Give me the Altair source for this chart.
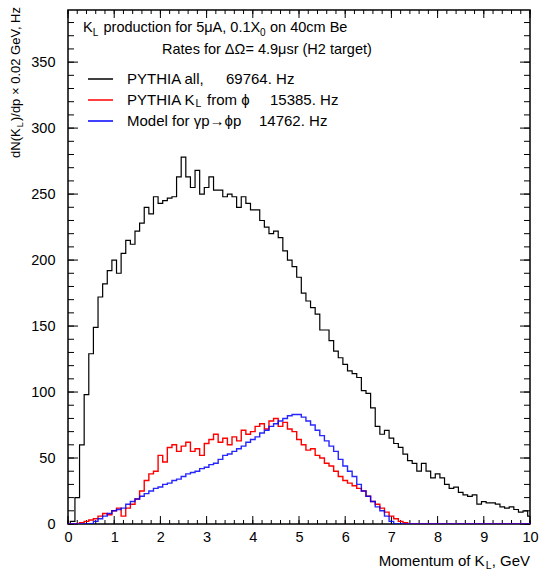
import altair as alt
import pandas as pd

# ---------------- data ----------------
momentum = [round(i * 0.1, 1) for i in range(101)]  # GeV, bin centres

pythia_all = [0, 2, 20, 60, 98, 129, 149, 172, 182, 192,
              200, 190, 205, 215, 212, 222, 228, 240, 235, 248,
              243, 245, 247, 248, 263, 278, 263, 255, 268, 250,
              255, 263, 253, 253, 248, 250, 248, 240, 248, 243,
              238, 238, 230, 225, 220, 222, 217, 207, 200, 195,
              187, 175, 169, 164, 159, 147, 147, 139, 131, 126,
              121, 116, 114, 111, 101, 99, 88, 74, 68, 71,
              65, 61, 58, 53, 48, 46, 40, 46, 40, 35,
              38, 35, 30, 27, 28, 24, 22, 21, 22, 15,
              17, 16, 16, 15, 13, 12, 13, 11, 9, 10,
              6]

pythia_phi = [0, 0, 0, 1, 2, 3, 4, 6, 8, 7,
              10, 12, 6, 12, 15, 19, 25, 33, 38, 40,
              52, 47, 58, 60, 55, 59, 62, 55, 57, 52,
              61, 64, 68, 62, 65, 60, 66, 63, 71, 68,
              70, 74, 76, 72, 78, 80, 74, 77, 72, 70,
              64, 60, 56, 57, 52, 50, 46, 44, 40, 36,
              33, 31, 29, 27, 25, 21, 17, 15, 12, 9,
              6, 4, 2, 1, 0, 0, 0, 0, 0, 0,
              0, 0, 0, 0, 0, 0, 0, 0, 0, 0,
              0, 0, 0, 0, 0, 0, 0, 0, 0, 0,
              0]

model_phi = [0, 0, 0, 0, 0, 0, 2, 4, 6, 8,
             10, 11, 12, 15, 17, 19, 21, 23, 25, 27,
             28, 30, 31, 33, 34, 36, 38, 39, 40, 42,
             43, 45, 46, 49, 52, 53, 55, 57, 59, 62,
             64, 66, 69, 71, 74, 76, 78, 80, 82, 83,
             83, 81, 78, 75, 71, 67, 63, 59, 55, 49,
             44, 40, 36, 30, 25, 21, 17, 13, 10, 6,
             2, 0, 0, 0, 0, 0, 0, 0, 0, 0,
             0, 0, 0, 0, 0, 0, 0, 0, 0, 0,
             0, 0, 0, 0, 0, 0, 0, 0, 0, 0,
             0]

x_major = [0, 1, 2, 3, 4, 5, 6, 7, 8, 9, 10]
x_minor = [round(i * 0.2, 1) for i in range(51)]
y_major = [0, 50, 100, 150, 200, 250, 300, 350]
y_minor = [i * 10 for i in range(39)]

# ---------------- layout ----------------
W, H = 462, 514
L0, T0 = 68, 10
FONT = "Liberation Sans"

xs = alt.Scale(domain=[0, 10], nice=False, zero=False)
ys = alt.Scale(domain=[0, 389.5], nice=False)

df = pd.DataFrame({"p": momentum, "all": pythia_all, "phi": pythia_phi, "model": model_phi})


def hist(col, color, width, opacity=1.0):
    return alt.Chart(df).mark_line(interpolate="step", color=color, strokeWidth=width,
                                   opacity=opacity, clip=True).encode(
        x=alt.X("p:Q", scale=xs, title=None,
                axis=alt.Axis(values=x_major, format="d", tickSize=0, domain=False, grid=False,
                              labelFont=FONT, labelFontSize=14.5, labelColor="black",
                              labelPadding=6, labelFlush=False)),
        y=alt.Y(f"{col}:Q", scale=ys, title=None,
                axis=alt.Axis(values=y_major, tickSize=0, domain=False, grid=False,
                              labelFont=FONT, labelFontSize=14.5, labelColor="black",
                              labelPadding=13, labelFlush=False)),
    )


def yticks(vals, length):
    d = pd.DataFrame({"v": vals})
    left = alt.Chart(d).mark_rule(color="black", strokeWidth=1).encode(
        y=alt.Y("v:Q", scale=ys), x=alt.value(0), x2=alt.value(length))
    right = alt.Chart(d).mark_rule(color="black", strokeWidth=1).encode(
        y=alt.Y("v:Q", scale=ys), x=alt.value(W - length), x2=alt.value(W))
    return [left, right]


def xticks(vals, length):
    d = pd.DataFrame({"v": vals})
    bottom = alt.Chart(d).mark_rule(color="black", strokeWidth=1).encode(
        x=alt.X("v:Q", scale=xs), y=alt.value(H - length), y2=alt.value(H))
    top = alt.Chart(d).mark_rule(color="black", strokeWidth=1).encode(
        x=alt.X("v:Q", scale=xs), y=alt.value(0), y2=alt.value(length))
    return [bottom, top]


one = pd.DataFrame({"a": [0]})


def txt(s, x, y, size, align="left", baseline="alphabetic", angle=0):
    kw = dict(text=s, font=FONT, fontSize=size, align=align,
              baseline=baseline, color="black")
    if angle:
        kw["angle"] = angle
    return alt.Chart(one).mark_text(**kw).encode(x=alt.value(x - L0), y=alt.value(y - T0))


def seg(x1, x2, y, color):
    return alt.Chart(one).mark_rule(color=color, strokeWidth=1.5).encode(
        x=alt.value(x1 - L0), x2=alt.value(x2 - L0), y=alt.value(y - T0))


layers = []
layers += yticks(y_minor, 6) + yticks(y_major, 10)
layers += xticks(x_minor, 4) + xticks(x_major, 8)
layers += [hist("all", "black", 1.2), hist("phi", "#ff0000", 1.4), hist("model", "#0000ff", 1.4, 0.85)]

# header text
fs = 14.5
layers += [
    txt("K", 83, 32, fs), txt("L", 92.7, 35.5, 10),
    txt("production for 5\u03bcA, 0.1X", 103.5, 32, fs), txt("0", 260, 35.5, 10),
    txt("on 40cm Be", 270, 32, fs),
    txt("Rates for \u0394\u03a9= 4.9\u03bcsr (H2 target)", 162, 54, fs),
]
# legend
lf = 15
layers += [
    seg(88, 113, 79, "black"), seg(88, 113, 100, "#ff0000"), seg(88, 113, 121, "#0000ff"),
    txt("PYTHIA all,", 127, 79, lf, baseline="middle"), txt("69764. Hz", 226, 79, lf, baseline="middle"),
    txt("PYTHIA K", 127, 100, lf, baseline="middle"), txt("L", 195.4, 104, 10.5, baseline="middle"),
    txt("from \u03d5", 207, 100, lf, baseline="middle"), txt("15385. Hz", 270, 100, lf, baseline="middle"),
    txt("Model for \u03b3p\u2192\u03d5p", 127, 121, lf, baseline="middle"),
    txt("14762. Hz", 259, 121, lf, baseline="middle"),
]
# x axis title
layers += [
    txt(", GeV", 530, 566, 15, align="right"), txt("L", 491.6, 569, 10.5, align="right"),
    txt("Momentum of K", 484.6, 566, 15, align="right"),
]
# y axis title (rotated, reads upward)
yf = 13
w1 = 8866 * yf / 1000
wl = 667 * 9 / 1000
layers += [
    txt(")/dp \u00d7 0.02 GeV, Hz", 16, 7, yf, align="right", baseline="middle", angle=270),
    txt("L", 19.5, 7 + w1, 9, align="right", baseline="middle", angle=270),
    txt("dN(K", 16, 7 + w1 + wl, yf, align="right", baseline="middle", angle=270),
]

chart = alt.layer(*layers).properties(
    width=W, height=H,
    autosize=alt.AutoSizeParams(type="none"),
    padding={"left": L0, "top": T0, "right": 540 - L0 - W, "bottom": 571 - T0 - H},
    background="white",
).configure_view(stroke="black", strokeWidth=1.5)

chart.save("out.html", embed_options={"renderer": "svg", "actions": False})
